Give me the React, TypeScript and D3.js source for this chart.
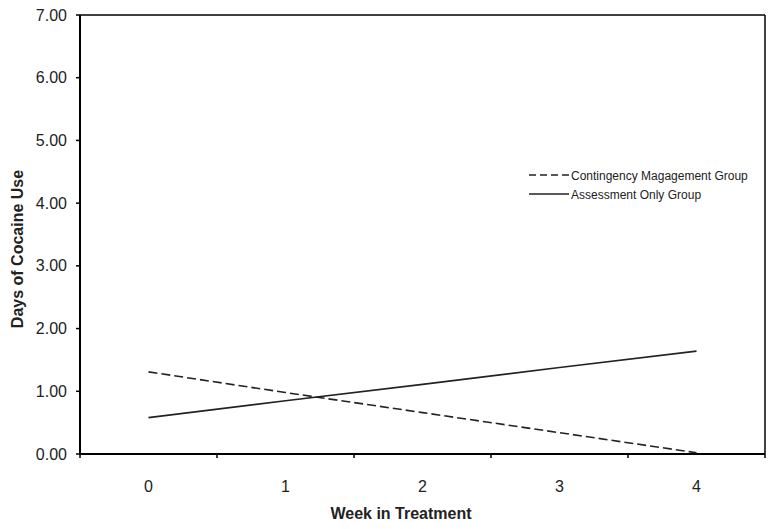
import React from "react";
import * as d3 from "d3";

const weeks = [0, 1, 2, 3, 4];
const contingency = [1.31, 0.98, 0.66, 0.34, 0.02];
const assessment = [0.58, 0.85, 1.11, 1.38, 1.64];
const yTicks = [0, 1, 2, 3, 4, 5, 6, 7];
const seriesNames = ["Contingency Magagement Group", "Assessment Only Group"];

const W = 774;
const H = 529;
const left = 80;
const right = 765;
const top = 15;
const bottom = 454;

export default function App() {
  const x = d3.scaleBand<number>().domain(weeks).range([left, right]).padding(0);
  const y = d3.scaleLinear().domain([0, 7]).range([bottom, top]);
  const cx = (d: number) => (x(d) as number) + x.bandwidth() / 2;
  const line = d3
    .line<[number, number]>()
    .x((d) => cx(d[0]))
    .y((d) => y(d[1]));
  const cmPts = weeks.map((w, i) => [w, contingency[i]] as [number, number]);
  const aoPts = weeks.map((w, i) => [w, assessment[i]] as [number, number]);
  const bounds = weeks.map((w) => x(w) as number).concat([right]);
  const font = "'Liberation Sans', Arial, sans-serif";

  return (
    <svg
      width={W}
      height={H}
      style={{ position: "absolute", left: 0, top: 0, background: "#fff" }}
      fontFamily={font}
    >
      <rect x={0} y={0} width={W} height={H} fill="#fff" />
      {/* frame */}
      <line x1={left} x2={right} y1={top} y2={top} stroke="#000" strokeWidth={1.5} />
      <line x1={right} x2={right} y1={top} y2={bottom} stroke="#000" strokeWidth={1.5} />
      {/* y axis */}
      <line x1={left} x2={left} y1={top} y2={bottom} stroke="#000" strokeWidth={2} />
      {yTicks.map((t) => (
        <g key={t}>
          <line x1={left - 4} x2={left} y1={y(t)} y2={y(t)} stroke="#000" strokeWidth={1.5} />
          <text x={67} y={y(t) + 5.5} textAnchor="end" fontSize={16} fill="#222">
            {t.toFixed(2)}
          </text>
        </g>
      ))}
      {/* x axis */}
      <line x1={left} x2={right} y1={bottom} y2={bottom} stroke="#000" strokeWidth={2} />
      {bounds.map((b, i) => (
        <line key={i} x1={b} x2={b} y1={bottom} y2={bottom + 4} stroke="#000" strokeWidth={1.5} />
      ))}
      {weeks.map((w) => (
        <text key={w} x={cx(w)} y={492} textAnchor="middle" fontSize={16} fill="#222">
          {w}
        </text>
      ))}
      {/* titles */}
      <text x={401} y={519} textAnchor="middle" fontSize={16} fontWeight="bold" fill="#222">
        Week in Treatment
      </text>
      <text
        transform={`translate(23,249) rotate(-90)`}
        textAnchor="middle"
        fontSize={16}
        fontWeight="bold"
        fill="#222"
      >
        Days of Cocaine Use
      </text>
      {/* lines */}
      <path d={line(cmPts) || ""} fill="none" stroke="#222" strokeWidth={1.6} strokeDasharray="9,4" />
      <path d={line(aoPts) || ""} fill="none" stroke="#222" strokeWidth={1.6} />
      {/* legend */}
      <line x1={529} x2={569} y1={175} y2={175} stroke="#222" strokeWidth={1.5} strokeDasharray="7,4" />
      <text x={571} y={179.5} fontSize={12} fill="#222">
        {seriesNames[0]}
      </text>
      <line x1={529} x2={569} y1={194} y2={194} stroke="#222" strokeWidth={1.5} />
      <text x={571} y={198.5} fontSize={12} fill="#222">
        {seriesNames[1]}
      </text>
    </svg>
  );
}
